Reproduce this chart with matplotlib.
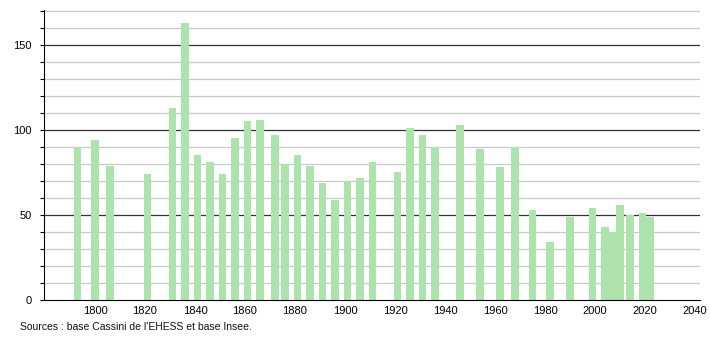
import matplotlib
matplotlib.use("Agg")
import matplotlib.pyplot as plt

# census years and population
years = [1793, 1800, 1806, 1821, 1831, 1836, 1841, 1846, 1851, 1856,
         1861, 1866, 1872, 1876, 1881, 1886, 1891, 1896, 1901, 1906,
         1911, 1921, 1926, 1931, 1936, 1946, 1954, 1962, 1968, 1975,
         1982, 1990, 1999, 2004, 2007, 2010, 2014, 2019, 2022]
population = [90, 94, 79, 74, 113, 163, 85, 81, 74, 95,
              105, 106, 97, 80, 85, 79, 69, 59, 70, 72,
              81, 75, 101, 97, 90, 103, 89, 78, 90, 53,
              34, 49, 54, 43, 40, 56, 50, 51, 49]

xticks = [1800, 1820, 1840, 1860, 1880, 1900, 1920, 1940, 1960, 1980, 2000, 2020, 2040]
yticks = [0, 50, 100, 150]
source = "Sources : base Cassini de l'EHESS et base Insee."

plt.rcParams['font.family'] = ['Liberation Sans', 'DejaVu Sans']

fig = plt.figure(figsize=(7.1, 3.4), dpi=100)
ax = fig.add_axes([44/710, 40/340, 656/710, 290/340])

# grid: light every 10, dark every 50
for v in range(10, 171, 10):
  if v % 50 == 0:
    ax.axhline(v, color="#333333", lw=0.9, zorder=1)
  else:
    ax.axhline(v, color="#c8c8c8", lw=0.9, zorder=1)

ax.bar(years, population, width=3.1, color="#ade3ad", zorder=2)

ax.set_xlim(1779.6, 2042)
ax.set_ylim(0, 170.5)
ax.spines['top'].set_visible(False)
ax.spines['right'].set_visible(False)
ax.spines['left'].set_color("black")
ax.spines['bottom'].set_color("black")

ax.set_yticks(yticks)
ax.set_yticks(range(10, 171, 10), minor=True)
ax.tick_params(axis='y', which='both', length=3, width=0.8, labelsize=8, pad=6)
ax.set_xticks(xticks)
ax.tick_params(axis='x', length=0, labelsize=8, pad=4)

fig.text(20/710, 1 - 327/340, source, fontsize=7.5, va='center', ha='left', color="#111111")

plt.savefig("out.png", dpi=100)
